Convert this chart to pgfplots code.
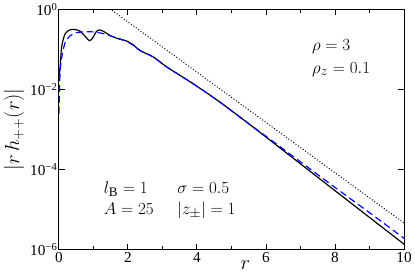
\documentclass[border=0pt]{standalone}
\usepackage{fontspec}
\setmainfont{Liberation Serif}
\usepackage{pgfplots}
\pgfplotsset{compat=1.18}
\begin{document}
\begin{tikzpicture}
\begin{axis}[
  scale only axis, width=351pt, height=244pt,
  xmin=0, xmax=10, ymin=1e-6, ymax=1, ymode=log,
  xtick={0,2,4,6,8,10}, minor xtick={1,3,5,7,9},
  ytick={1e-6,1e-4,1e-2,1},
  yticklabels={10\textsuperscript{−6},10\textsuperscript{−4},10\textsuperscript{−2},10\textsuperscript{0}},
  yminorticks=false,
  tick align=inside, major tick length=6pt, minor tick length=3.5pt,
  axis line style={line width=1.2pt},
  every tick/.style={black, line width=1pt},
  tick label style={font=\fontsize{15.5}{18}\selectfont},
  xticklabel style={yshift=1pt},
  yticklabel style={xshift=2pt},
  /pgf/number format/assume math mode=true,
  xlabel={$r$}, ylabel={$|r\,h_{++}(r)|$},
  label style={font=\fontsize{21}{24}\selectfont},
  xlabel style={at={(axis description cs:0.54,0)}, anchor=north, yshift=-8pt},
  ylabel style={at={(axis description cs:-0.088,0.5)}, anchor=south, inner sep=4pt},
  clip=true,
]
\addplot[black, line width=1.2pt, smooth, tension=0.5] coordinates {
(0.005,0.0178) (0.025,0.0282) (0.04,0.0398) (0.06,0.0708) (0.085,0.123) (0.18,0.245) (0.32,0.309) (0.46,0.316)
(0.61,0.288) (0.75,0.219) (0.89,0.166) (0.99,0.200) (1.08,0.275) (1.18,0.309)
(1.32,0.275) (1.50,0.219) (1.75,0.182) (1.94,0.166) (2.13,0.135) (2.36,0.0933)
(2.74,0.0646) (3.13,0.0363) (3.88,0.0141) (4.64,0.00501) (5.40,0.00162)
(6.0,6.46e-4) (7.0,1.38e-4) (8.0,2.95e-5) (9.0,6.31e-6) (10.0,1.35e-6)
};
\addplot[blue, line width=1.2pt, dash pattern=on 7pt off 4pt, smooth, tension=0.5] coordinates {
(0.005,0.00251) (0.03,0.01995) (0.06,0.0447) (0.1,0.0759) (0.18,0.148) (0.25,0.186)
(0.32,0.219) (0.42,0.245) (0.51,0.263)
(0.70,0.275) (0.99,0.275) (1.27,0.251) (1.50,0.219) (1.75,0.186) (1.94,0.162)
(2.13,0.132) (2.36,0.0933) (2.74,0.0646) (3.13,0.0363) (3.88,0.0141) (4.64,0.00501)
(5.40,0.00162) (6.0,6.76e-4) (7.0,1.55e-4) (8.0,3.55e-5) (9.0,8.3e-6) (10.0,1.9e-6)
};
\addplot[black, line width=1pt, dotted] coordinates {
(1.4,1.17) (10,4.57e-6)
};
\node[anchor=north west, inner sep=0pt, font=\fontsize{19}{21}\selectfont, align=left]
  at (rel axis cs:0.733,0.875) {$\rho = 3$\\[2pt] $\rho_z = 0.1$};
\node[anchor=north west, inner sep=0pt, font=\fontsize{19}{21}\selectfont]
  at (rel axis cs:0.13,0.295) {\begin{tabular}{@{}l@{\hspace{24pt}}l@{}}
  $l_{\mathrm{B}} = 1$ & $\sigma = 0.5$\\[1pt]
  $A = 25$ & $|z_\pm| = 1$
  \end{tabular}};
\end{axis}
\end{tikzpicture}
\end{document}
